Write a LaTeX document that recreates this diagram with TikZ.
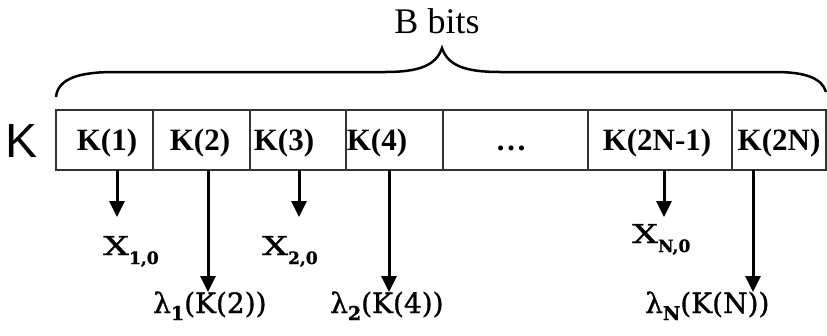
\documentclass[tikz,border=0pt]{standalone}
\usepackage{fontspec}
\usepackage{graphicx}
\setmainfont{Liberation Serif}
\newfontfamily\labfont[FakeBold=1.2]{DejaVu Serif}
\newfontfamily\ksans{Liberation Sans}
\usetikzlibrary{arrows.meta}
\newcommand\xlabel[1]{\scalebox{1.4}[1]{X}\raisebox{-9pt}{\fontsize{17}{17}\selectfont\bfseries #1}}
\newcommand\llabel[2]{λ\raisebox{-7pt}{\fontsize{19}{19}\selectfont\bfseries #1}(K(#2))}
\begin{document}
\begin{tikzpicture}[x=1pt,y=-1pt,
  cellbox/.style={draw=black!80, line width=1.5pt, minimum height=60pt, inner sep=0pt, outer sep=0pt, anchor=north west},
  celltext/.style={font=\fontsize{31}{31}\selectfont\bfseries, anchor=base, inner sep=0pt},
  arr/.style={-{Triangle[width=15pt,length=16pt]}, line width=3pt},
  lab/.style={font=\labfont\fontsize{28}{28}\selectfont, anchor=base west, inner sep=0pt},
  xlab/.style={font=\labfont\fontsize{26}{26}\selectfont, anchor=base west, inner sep=0pt},
]
\useasboundingbox (0,0) rectangle (827,335);

% title and brace
\node[font=\fontsize{36}{36}\selectfont, anchor=base, inner sep=0pt] (title) at (437,33) {B bits};
\draw[line width=2.5pt] (56,97) .. controls (58,78) and (80,72) .. (115,72) -- (385,72)
  .. controls (418,72) and (436,66) .. (442,48)
  .. controls (448,66) and (466,72) .. (500,72) -- (775,72)
  .. controls (805,72) and (822,78) .. (826,92);

% K label
\node[font=\ksans\fontsize{48}{48}\selectfont, anchor=base, inner sep=0pt] (K) at (22,157) {K};

% cells
\node[cellbox, minimum width=97pt] (c1) at (56,110) {};
\node[cellbox, minimum width=97pt] (c2) at (153,110) {};
\node[cellbox, minimum width=96pt] (c3) at (250,110) {};
\node[cellbox, minimum width=97pt] (c4) at (346,110) {};
\node[cellbox, minimum width=145pt] (c5) at (443,110) {};
\node[cellbox, minimum width=144pt] (c6) at (588,110) {};
\node[cellbox, minimum width=94pt] (c7) at (732,110) {};

\node[celltext] (t1) at (107,150) {K(1)};
\node[celltext] (t2) at (200,150) {K(2)};
\node[celltext] (t3) at (284,150) {K(3)};
\node[celltext] (t4) at (377,150) {K(4)};
\node[celltext] (t5) at (511,150) {…};
\node[celltext] (t6) at (657,150) {K(2N-1)};
\node[celltext] (t7) at (779,150) {K(2N)};

% arrow tips
\coordinate (a1) at (117,217);
\coordinate (a2) at (208,292);
\coordinate (a3) at (299,217);
\coordinate (a4) at (389,292);
\coordinate (a5) at (664,217);
\coordinate (a6) at (753,292);

\draw[arr] (c1.south -| a1) -- (a1);
\draw[arr] (c2.south -| a2) -- (a2);
\draw[arr] (c3.south -| a3) -- (a3);
\draw[arr] (c4.south -| a4) -- (a4);
\draw[arr] (c6.south -| a5) -- (a5);
\draw[arr] (c7.south -| a6) -- (a6);

% labels
\node[xlab] (x1) at (103,255) {\xlabel{1,0}};
\node[xlab] (x2) at (262,255) {\xlabel{2,0}};
\node[xlab] (xN) at (632,243) {\xlabel{N,0}};
\node[lab] (l1) at (153,313) {\llabel{1}{2}};
\node[lab] (l2) at (330,313) {\llabel{2}{4}};
\node[lab] (lN) at (645,313) {\llabel{N}{N}};
\end{tikzpicture}
\end{document}
